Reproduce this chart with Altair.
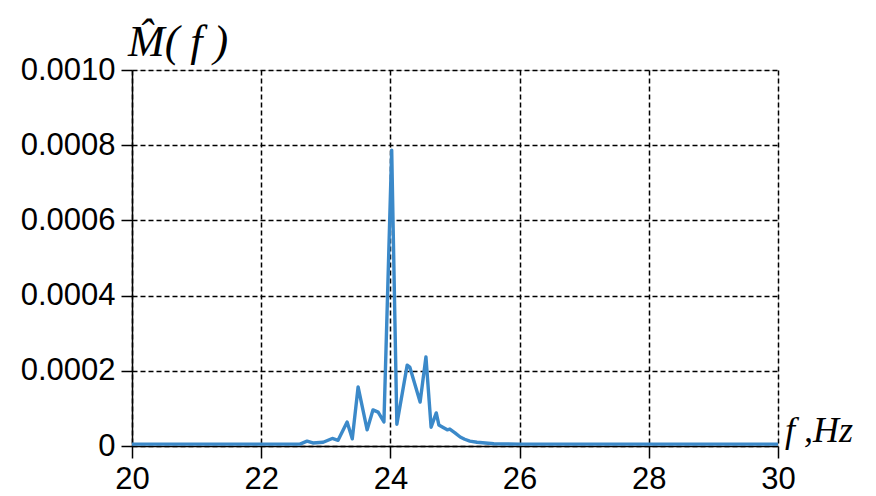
import altair as alt
import pandas as pd

freq = [20.0, 21.0, 22.0, 22.6, 22.71, 22.80, 22.96, 23.10, 23.19, 23.33, 23.41, 23.50,
        23.64, 23.73, 23.81, 23.90, 24.02, 24.10, 24.26, 24.30, 24.46, 24.55, 24.63,
        24.71, 24.75, 24.81, 24.88, 24.92, 25.00, 25.08, 25.15, 25.23, 25.34, 25.6,
        26.0, 27.0, 28.0, 29.0, 30.0]
mag_e4 = [0.05, 0.05, 0.05, 0.05, 0.13, 0.08, 0.10, 0.20, 0.15, 0.64, 0.19, 1.57,
          0.43, 0.96, 0.90, 0.64, 7.87, 0.58, 2.15, 2.10, 1.17, 2.37, 0.50,
          0.88, 0.56, 0.50, 0.43, 0.45, 0.35, 0.24, 0.18, 0.13, 0.10, 0.06,
          0.05, 0.05, 0.05, 0.05, 0.05]
mag = [v * 1e-4 for v in mag_e4]

x_ticks = [20, 22, 24, 26, 28, 30]
y_ticks = [0, 0.0002, 0.0004, 0.0006, 0.0008, 0.0010]

df = pd.DataFrame({"f": freq, "M": mag})

W, H = 646, 376

line = alt.Chart(df).mark_line(color="#3b89c9", strokeWidth=3.4, clip=True,
                               strokeJoin="round").encode(
    x=alt.X("f:Q", scale=alt.Scale(domain=[20, 30], nice=False),
            axis=alt.Axis(values=x_ticks, title=None, grid=True, gridDash=[5, 3],
                          gridColor="black", gridWidth=1.5, gridOpacity=1,
                          domainColor="black", domainWidth=1.5, tickColor="black",
                          tickWidth=1.5, tickSize=12, labelPadding=6,
                          labelFont="Liberation Sans", labelFontSize=31,
                          labelColor="black", labelFlush=False)),
    y=alt.Y("M:Q", scale=alt.Scale(domain=[0, 0.001], nice=False),
            axis=alt.Axis(values=y_ticks, title=None, grid=True, gridDash=[5, 3],
                          gridColor="black", gridWidth=1.5, gridOpacity=1,
                          domainColor="black", domainWidth=1.5, tickColor="black",
                          tickWidth=1.5, tickSize=11, labelPadding=6,
                          labelFont="Liberation Sans", labelFontSize=31,
                          labelColor="black", labelFlush=False,
                          labelExpr="datum.value == 0 ? '0' : format(datum.value, '.4f')")),
)

ylab = alt.Chart(pd.DataFrame({"t": ["M\u0302( f )"]})).mark_text(
    font="Liberation Serif", fontStyle="italic", fontSize=44, align="left",
    baseline="alphabetic", color="black"
).encode(x=alt.value(-4), y=alt.value(-14), text="t:N")

xlab = alt.Chart(pd.DataFrame({"t": ["f ,Hz"]})).mark_text(
    font="Liberation Serif", fontStyle="italic", fontSize=36, align="left",
    baseline="alphabetic", color="black"
).encode(x=alt.value(W + 7), y=alt.value(H - 4), text="t:N")

chart = alt.layer(line, ylab, xlab).properties(
    width=W, height=H,
    autosize=alt.AutoSizeParams(type="none"),
    padding={"left": 124, "top": 62, "right": 90, "bottom": 50},
).configure_view(stroke="#444444", strokeWidth=2).configure(background="white")

chart.save("out.html", embed_options={"renderer": "svg", "actions": False})
